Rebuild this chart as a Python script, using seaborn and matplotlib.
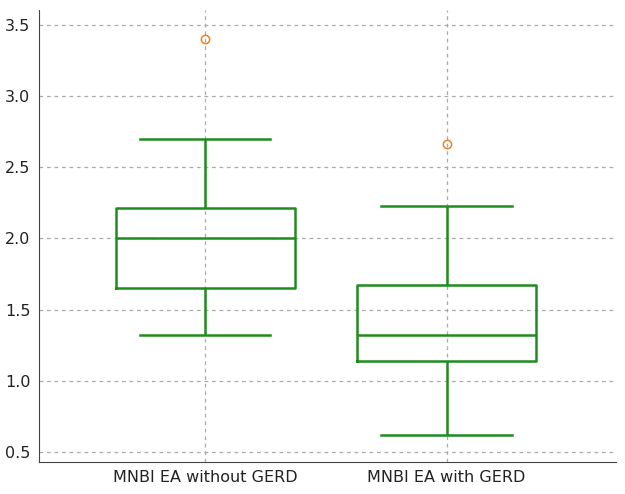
import matplotlib
matplotlib.use("Agg")
import matplotlib.pyplot as plt
import seaborn as sns
import pandas as pd

# values (whisker low, quartiles, median, whisker high, outlier)
groups = ["MNBI EA without GERD", "MNBI EA with GERD"]
without_gerd = [1.32, 1.65, 1.65, 2.00, 2.00, 2.21, 2.21, 2.70, 3.40]
with_gerd = [0.62, 1.14, 1.14, 1.32, 1.32, 1.67, 1.67, 2.23, 2.66]

df = pd.DataFrame({
    "group": [groups[0]] * len(without_gerd) + [groups[1]] * len(with_gerd),
    "value": without_gerd + with_gerd,
})

green = "#1e8c1e"
fig, ax = plt.subplots(figsize=(6.25, 4.94), dpi=100)
fig.subplots_adjust(left=0.062, right=0.985, top=0.98, bottom=0.065)

sns.boxplot(data=df, x="group", y="value", ax=ax, width=0.74, fill=False,
            color=green, linewidth=1.8, whis=1.5,
            capprops=dict(color=green),
            flierprops=dict(marker="o", markersize=6, markerfacecolor="none",
                            markeredgecolor="#f08020", markeredgewidth=1.1))

# shorter caps, as in the reference
for line in ax.lines:
    x = line.get_xdata()
    y = line.get_ydata()
    if len(x) == 2 and y[0] == y[1] and abs(x[1] - x[0]) > 0.01:
        mid = (x[0] + x[1]) / 2
        half = abs(x[1] - x[0]) / 2
        if half < 0.3:
            line.set_xdata([mid - 0.27, mid + 0.27])

ax.set_ylim(0.43, 3.605)
ax.set_yticks([0.5, 1.0, 1.5, 2.0, 2.5, 3.0, 3.5])
ax.set_xlim(-0.69, 1.70)
ax.grid(True, linestyle=(0, (3, 3)), color="#aaaaaa", linewidth=0.9)
ax.set_axisbelow(True)
ax.set_xlabel("")
ax.set_ylabel("")
for s in ["top", "right"]:
    ax.spines[s].set_visible(False)
for s in ["left", "bottom"]:
    ax.spines[s].set_color("#444444")
ax.tick_params(labelsize=11.5, colors="#222222", length=0, pad=6)

fig.savefig("out.png")
